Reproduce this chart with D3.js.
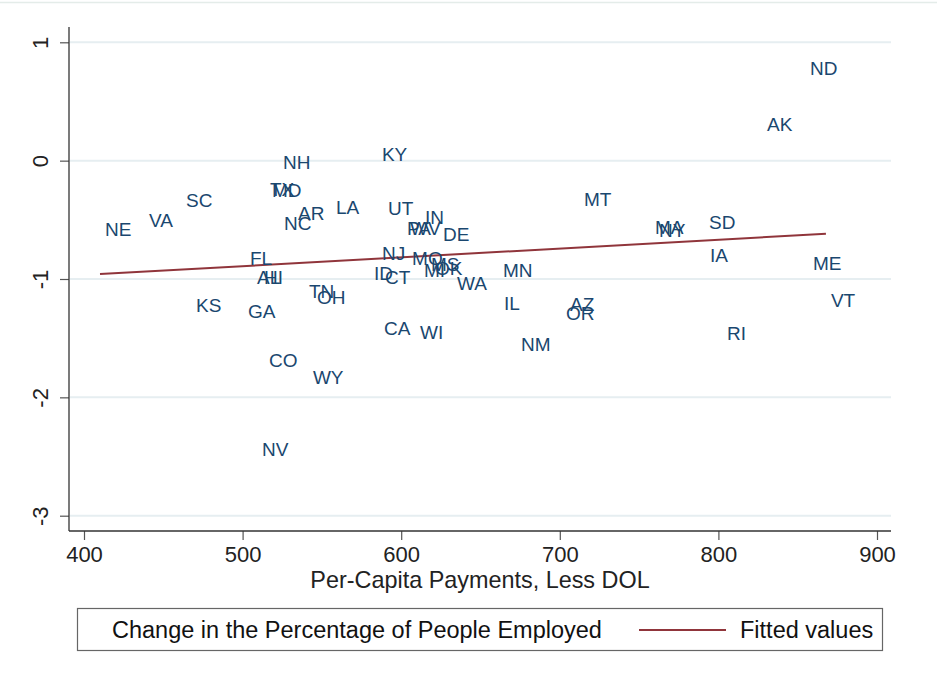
<!DOCTYPE html>
<html>
<head>
<meta charset="utf-8">
<script src="https://cdn.jsdelivr.net/npm/d3@7"></script>
<style>
  html, body { margin: 0; padding: 0; background: #fff; }
  svg { display: block; font-family: "Liberation Sans", Arial, sans-serif; }
</style>
</head>
<body>
<svg id="chart" width="937" height="682"></svg>
<script>
// State abbreviations
const states = ["ND","AK","KY","NH","TX","MD","SC","MT","NE","VA",
  "AR","LA","UT","IN","NC","PA","WV","DE","MA","NY",
  "SD","IA","ME","VT","RI","NJ","MO","MS","MI","OK",
  "MN","WA","ID","CT","IL","AZ","OR","CA","WI","NM",
  "FL","AL","HI","TN","OH","KS","GA","CO","WY","NV"];

// Per-capita payments, less DOL
const payments = [854.6, 827.5, 584.7, 522.3, 514.1, 515.4, 461.2, 712.1, 410.1, 437.8,
  531.8, 555.7, 588.5, 611.9, 522.9, 600.5, 602.4, 623.2, 756.9, 759.4,
  790.9, 791.5, 856.5, 867.8, 802.3, 584.7, 603.7, 615.6, 611.2, 618.2,
  661.0, 632.0, 579.7, 586.6, 661.7, 703.3, 700.8, 586.0, 608.7, 672.4,
  501.5, 505.9, 510.3, 538.7, 543.8, 467.5, 500.3, 513.5, 541.2, 509.1];

// Change in the percentage of people employed
const employedChange = [0.782, 0.309, 0.056, -0.012, -0.240, -0.248, -0.333, -0.324, -0.578, -0.502,
  -0.443, -0.392, -0.401, -0.477, -0.527, -0.569, -0.569, -0.620, -0.561, -0.586,
  -0.519, -0.798, -0.865, -1.178, -1.457, -0.781, -0.823, -0.874, -0.924, -0.907,
  -0.924, -1.034, -0.950, -0.984, -1.203, -1.212, -1.288, -1.414, -1.448, -1.550,
  -0.823, -0.984, -0.984, -1.102, -1.153, -1.220, -1.271, -1.685, -1.828, -2.437];

// Fitted values at the ends of the payment range
const fittedX = [410.1, 867.8];
const fittedY = [-0.958, -0.618];

const xTicks = [400, 500, 600, 700, 800, 900];
const yTicks = [1, 0, -1, -2, -3];

const legendLabels = ["Change in the Percentage of People Employed", "Fitted values"];
const xTitle = "Per-Capita Payments, Less DOL";

const navy = "#1a476f";
const maroon = "#90353b";

const svg = d3.select("#chart");

// faint outer frame line at the top of the graph region
svg.append("line")
  .attr("x1", 0).attr("x2", 937).attr("y1", 2.5).attr("y2", 2.5)
  .attr("stroke", "#e4ece9").attr("stroke-width", 1.5);

const x = d3.scaleLinear().domain([400, 900]).range([84, 877]);
const y = d3.scaleLinear().domain([-3, 1]).range([515.7, 42.3]);

const plotLeft = 69, plotRight = 891, plotTop = 27, plotBottom = 531;

// horizontal grid lines
svg.append("g").selectAll("line").data(yTicks).join("line")
  .attr("x1", plotLeft + 1).attr("x2", plotRight)
  .attr("y1", d => y(d)).attr("y2", d => y(d))
  .attr("stroke", "#e6eef1").attr("stroke-width", 2);

// x axis
const xAxis = svg.append("g")
  .attr("transform", `translate(0,${plotBottom})`)
  .call(d3.axisBottom(x).tickValues(xTicks).tickSize(9).tickPadding(6).tickFormat(d3.format("d")));
xAxis.select(".domain").remove();
xAxis.selectAll(".tick line").attr("stroke", "#555").attr("stroke-width", 1.2);
xAxis.selectAll(".tick text")
  .attr("font-size", 22).attr("fill", "#222")
  .attr("font-family", "Liberation Sans, Arial, sans-serif");
svg.append("line")
  .attr("x1", plotLeft).attr("x2", plotRight)
  .attr("y1", plotBottom).attr("y2", plotBottom)
  .attr("stroke", "#333").attr("stroke-width", 1.3);

// y axis
const yAxis = svg.append("g")
  .attr("transform", `translate(${plotLeft},0)`)
  .call(d3.axisLeft(y).tickValues(yTicks).tickSize(9).tickFormat(d3.format("d")));
yAxis.select(".domain").remove();
yAxis.selectAll(".tick line").attr("stroke", "#555").attr("stroke-width", 1.2);
yAxis.selectAll(".tick text").remove();
yAxis.selectAll(".tick").append("text")
  .attr("transform", "translate(-21,0) rotate(-90)")
  .attr("text-anchor", "middle")
  .attr("font-size", 22).attr("fill", "#222")
  .attr("font-family", "Liberation Sans, Arial, sans-serif")
  .text(d => d3.format("d")(d).replace("−", "-"));
svg.append("line")
  .attr("x1", plotLeft).attr("x2", plotLeft)
  .attr("y1", plotTop).attr("y2", plotBottom)
  .attr("stroke", "#333").attr("stroke-width", 1.3);

// x axis title
svg.append("text")
  .attr("x", (plotLeft + plotRight) / 2).attr("y", 588)
  .attr("text-anchor", "middle")
  .attr("font-size", 23.4).attr("fill", "#222")
  .text(xTitle);

// fitted line
svg.append("path")
  .datum(fittedX.map((v, i) => [v, fittedY[i]]))
  .attr("fill", "none").attr("stroke", maroon).attr("stroke-width", 2)
  .attr("d", d3.line().x(d => x(d[0])).y(d => y(d[1])));

// state labels placed to the right of each point
const pts = states.map((s, i) => ({ s, px: payments[i], py: employedChange[i] }));
svg.append("g").selectAll("text").data(pts).join("text")
  .attr("x", d => x(d.px) + 5)
  .attr("y", d => y(d.py))
  .attr("dy", "0.36em")
  .attr("font-size", 19)
  .attr("fill", navy)
  .text(d => d.s);

// legend
const lg = svg.append("g");
lg.append("rect")
  .attr("x", 77.5).attr("y", 608.5).attr("width", 805).attr("height", 42)
  .attr("fill", "#fff").attr("stroke", "#666").attr("stroke-width", 1.2);
lg.append("text")
  .attr("x", 112).attr("y", 638)
  .attr("font-size", 23.5).attr("fill", "#111")
  .text(legendLabels[0]);
lg.append("line")
  .attr("x1", 639).attr("x2", 726).attr("y1", 630).attr("y2", 630)
  .attr("stroke", maroon).attr("stroke-width", 2);
lg.append("text")
  .attr("x", 740).attr("y", 638)
  .attr("font-size", 23.5).attr("fill", "#111")
  .text(legendLabels[1]);
</script>
</body>
</html>
